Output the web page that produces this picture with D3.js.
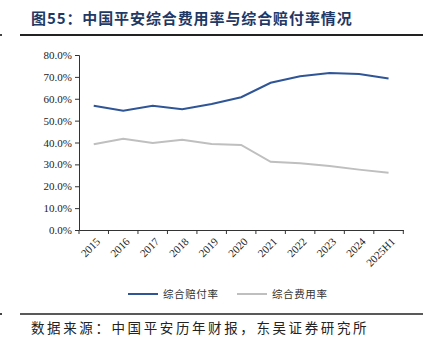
<!DOCTYPE html>
<html><head><meta charset="utf-8">
<script src="https://cdn.jsdelivr.net/npm/d3@7"></script>
<style>body{margin:0;background:#fff;}svg{display:block;}</style>
</head><body>
<script>
const categories = ["2015","2016","2017","2018","2019","2020","2021","2022","2023","2024","2025H1"];
const lossRatio = [56.8,54.5,56.8,55.2,57.6,60.7,67.3,70.3,71.8,71.3,69.3];
const expenseRatio = [39.2,41.7,39.8,41.3,39.3,38.9,31.2,30.5,29.3,27.6,26.2];
const yTicks = [0,10,20,30,40,50,60,70,80];
const seriesNames = ["综合赔付率","综合费用率"];
const colors = ["#2f5597","#bfbfbf"];

const W=430,H=357;
const svg=d3.select("body").append("svg").attr("width",W).attr("height",H);

// title
svg.append("text").attr("x",31).attr("y",24).attr("font-family","Noto Sans CJK SC").attr("font-weight","bold")
  .attr("font-size",15).attr("letter-spacing",0.9).attr("fill","#1f3864").text("图55：中国平安综合费用率与综合赔付率情况");
svg.append("line").attr("x1",20).attr("x2",423).attr("y1",35).attr("y2",35).attr("stroke","#222").attr("stroke-width",2);
svg.append("rect").attr("x",0).attr("y",34).attr("width",2).attr("height",2).attr("fill","#444");

const x=d3.scaleBand().domain(categories).range([79,403.3]);
const y=d3.scaleLinear().domain([0,80]).range([230,55]);

const yAxis=svg.append("g").attr("transform","translate(79,0)")
  .call(d3.axisLeft(y).tickValues(yTicks).tickSize(4).tickPadding(3).tickFormat(d=>d.toFixed(1)+"%"));
yAxis.selectAll("text").attr("font-family","Liberation Serif").attr("font-size",11).attr("fill","#222");
yAxis.selectAll("line,path").attr("stroke","#333");

const xAxis=svg.append("g").attr("transform","translate(0,230)")
  .call(d3.axisBottom(x).tickSize(0).tickSizeOuter(0).tickPadding(0));
xAxis.select("path").attr("stroke","#333");
xAxis.selectAll("text").attr("font-family","Liberation Serif").attr("font-size",11).attr("fill","#222")
  .attr("text-anchor","end").attr("dy","0").attr("transform",function(){
    return "translate(3,8) rotate(-45)";
  }).attr("y",6).attr("x",0);
// boundary ticks
const bounds=categories.map(c=>x(c)).concat([x.range()[1]]);
svg.append("g").selectAll("line").data(bounds).join("line")
  .attr("x1",d=>d).attr("x2",d=>d).attr("y1",230).attr("y2",234).attr("stroke","#333");

const line=d3.line().x((d,i)=>x(categories[i])+x.bandwidth()/2).y(d=>y(d));
[lossRatio,expenseRatio].forEach((s,k)=>{
  svg.append("path").datum(s).attr("d",line).attr("fill","none").attr("stroke",colors[k]).attr("stroke-width",2);
});

// legend
const lg=[{x:128,name:seriesNames[0],c:colors[0]},{x:237,name:seriesNames[1],c:colors[1]}];
lg.forEach(l=>{
  svg.append("line").attr("x1",l.x).attr("x2",l.x+30).attr("y1",294).attr("y2",294).attr("stroke",l.c).attr("stroke-width",2);
  svg.append("text").attr("x",l.x+35).attr("y",298).attr("font-family","Noto Sans CJK SC").attr("font-size",10.5).attr("letter-spacing",0.6).attr("fill","#333").text(l.name);
});

svg.append("line").attr("x1",20).attr("x2",423).attr("y1",314).attr("y2",314).attr("stroke","#222").attr("stroke-width",1.5);
svg.append("rect").attr("x",0).attr("y",313).attr("width",2).attr("height",2).attr("fill","#444");
svg.append("text").attr("x",31).attr("y",333).attr("font-family","Noto Sans CJK SC").attr("font-size",13.5).attr("letter-spacing",2.6).attr("fill","#222")
  .text("数据来源：中国平安历年财报，东吴证券研究所");
</script>
</body></html>
